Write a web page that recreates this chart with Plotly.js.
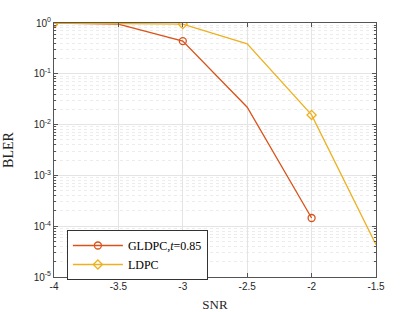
<!DOCTYPE html>
<html><head><meta charset="utf-8">
<script src="https://cdn.plot.ly/plotly-3.0.1.min.js"></script>
<style>html,body{margin:0;padding:0;background:#fff}#chart{width:415px;height:312px}</style>
</head><body><div id="chart"></div>
<script>
var snrG = [-4, -3.5, -3, -2.5, -2];
var blerG = [1, 0.95, 0.44, 0.022, 1.45e-4];
var snrL = [-4, -3.5, -3, -2.5, -2, -1.5];
var blerL = [1, 0.99, 0.95, 0.39, 0.0155, 4.3e-5];
var xTicks = [-4, -3.5, -3, -2.5, -2, -1.5];
var xTickText = ['-4', '-3.5', '-3', '-2.5', '-2', '-1.5'];
var yTicks = [1, 0.1, 0.01, 0.001, 1e-4, 1e-5];
var yTickText = ['10<sup>0</sup>', '10<sup>-1</sup>', '10<sup>-2</sup>', '10<sup>-3</sup>', '10<sup>-4</sup>', '10<sup>-5</sup>'];
var names = ['GLDPC,<i>t</i>=0.85', 'LDPC'];
var colors = ['#D95319', '#EDB120'];
var symbols = ['circle-open', 'diamond-open'];

var minorY = [];
for (var e = -5; e < 0; e++) { for (var m = 2; m <= 9; m++) minorY.push(m * Math.pow(10, e)); }

function every2(a){ return a.filter(function(v,i){ return i % 2 === 0; }); }

var series = [[snrG, blerG], [snrL, blerL]];
var traces = [];
series.forEach(function(s, k){
  traces.push({x: s[0], y: s[1], mode: 'lines', showlegend: false, legendgroup: 'g'+k,
    line: {color: colors[k], width: 1.3}});
  traces.push({x: every2(s[0]), y: every2(s[1]), mode: 'markers', showlegend: false, legendgroup: 'g'+k,
    marker: {symbol: symbols[k], size: 7, color: colors[k], line: {width: 1.3}}});
});
series.forEach(function(s, k){
  traces.push({x: [null], y: [null], mode: 'lines+markers', name: names[k], legendgroup: 'g'+k,
    line: {color: colors[k], width: 1.3},
    marker: {symbol: symbols[k], size: 7, color: colors[k], line: {width: 1.3}}});
});

var axisCommon = {
  showline: true, linecolor: '#555', linewidth: 1, mirror: 'allticks',
  ticks: 'inside', ticklen: 4, tickcolor: '#555',
  showgrid: true, gridcolor: '#e4e4e4', gridwidth: 1, zeroline: false,
  tickfont: {family: 'Liberation Sans, Arial, sans-serif', size: 10, color: '#262626'}
};

var layout = {
  width: 415, height: 312,
  margin: {l: 54, r: 39, t: 23, b: 35},
  paper_bgcolor: '#fff', plot_bgcolor: '#fff',
  showlegend: true,
  xaxis: Object.assign({}, axisCommon, {
    range: [-4, -1.5], tickvals: xTicks, ticktext: xTickText,
    title: {text: 'SNR', font: {family: 'Liberation Serif, Times New Roman, serif', size: 13, color: '#262626'}, standoff: 8}
  }),
  yaxis: Object.assign({}, axisCommon, {
    type: 'log', range: [-5, 0], tickvals: yTicks, ticktext: yTickText,
    minor: {tickvals: minorY, ticks: 'inside', ticklen: 2, tickcolor: '#555', showgrid: true, gridcolor: '#ececec', griddash: 'dot', gridwidth: 1},
    title: {text: 'BLER', font: {family: 'Liberation Serif, Times New Roman, serif', size: 14, color: '#262626'}, standoff: 16}
  }),
  legend: {
    x: 0.04, y: 0.185, xanchor: 'left', yanchor: 'top',
    bgcolor: '#fff', bordercolor: '#333', borderwidth: 1,
    font: {family: 'Liberation Serif, Times New Roman, serif', size: 12, color: '#000'},
    itemwidth: 50, tracegroupgap: 0, traceorder: 'normal',
    entrywidth: 150, entrywidthmode: 'pixels'
  }
};

Plotly.newPlot('chart', traces, layout, {displayModeBar: false, staticPlot: true});
</script></body></html>
